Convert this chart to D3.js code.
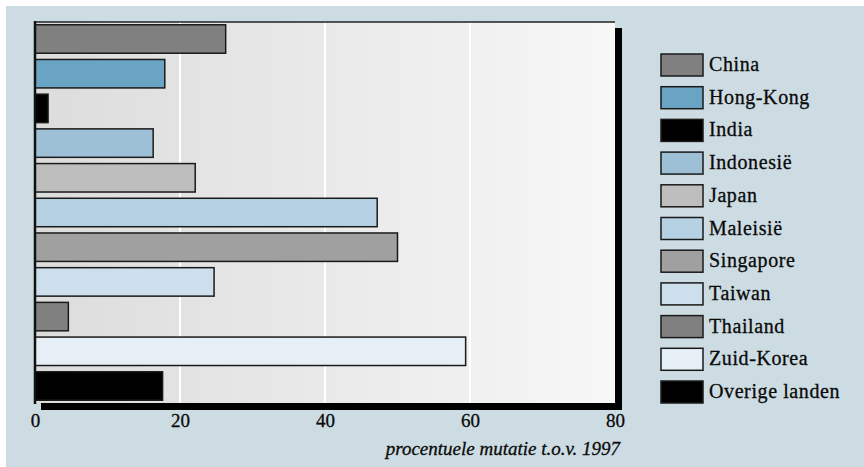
<!DOCTYPE html>
<html lang="nl">
<head>
  <meta charset="UTF-8">
  <title>Procentuele mutatie t.o.v. 1997</title>
  <style>
    html, body { margin: 0; padding: 0; background: #fff; }
    svg { display: block; }
    svg text {
      font-family: 'Liberation Serif', 'Times New Roman', Times, 'DejaVu Serif', serif;
      fill: #0a0a0a; stroke: #0a0a0a; stroke-width: 0.3px;
    }
    .tick text { font-size: 19px; }
  </style>
</head>
<body>
  <div class="workspace"></div>
  <script src="https://cdn.jsdelivr.net/npm/d3@7/dist/d3.min.js"></script>
  <script>
    // landen, in volgorde van boven naar beneden
    const countries = ['China', 'Hong-Kong', 'India', 'Indonesië', 'Japan', 'Maleisië',
      'Singapore', 'Taiwan', 'Thailand', 'Zuid-Korea', 'Overige landen']
    const values = [26.3, 17.9, 1.8, 16.3, 22.1, 47.2, 50.0, 24.7, 4.6, 59.4, 17.6]
    const colors = ['#808080', '#6aa4c4', '#000000', '#9dc0d6', '#bebebe', '#b5d1e3',
      '#a0a0a0', '#cddfec', '#808080', '#e6eef6', '#000000']
    const xTicks = [0, 20, 40, 60, 80]
    const axisTitle = 'procentuele mutatie t.o.v. 1997'

    const width = 864
    const height = 467
    const margin = { top: 22, left: 35, right: 249, bottom: 64 }
    const plotRight = width - margin.right
    const plotBottom = height - margin.bottom

    const data = countries.map((c, i) => ({ name: c, value: values[i], color: colors[i] }))

    const svg = d3.select('.workspace').append('svg')
      .attr('width', width)
      .attr('height', height)

    // achtergrond
    svg.append('rect')
      .attr('x', 6).attr('y', 6)
      .attr('width', width - 6).attr('height', height - 6)
      .attr('fill', '#cddce3')

    const defs = svg.append('defs')
    const grad = defs.append('linearGradient')
      .attr('id', 'plotBg')
      .attr('x1', '0%').attr('x2', '100%')
      .attr('y1', '0%').attr('y2', '0%')
    grad.append('stop').attr('offset', '0%').attr('stop-color', '#dcdcdc')
    grad.append('stop').attr('offset', '100%').attr('stop-color', '#f7f7f7')

    const x = d3.scaleLinear()
      .domain([0, 80])
      .range([margin.left, plotRight])

    const y = d3.scaleBand()
      .domain(countries)
      .range([margin.top, plotBottom])
      .paddingInner(0.18)
      .paddingOuter(0.08)

    // schaduw
    svg.append('rect')
      .attr('x', margin.left + 6)
      .attr('y', margin.top + 6)
      .attr('width', plotRight - margin.left + 1)
      .attr('height', plotBottom - margin.top + 1)
      .attr('fill', '#000')

    svg.append('rect')
      .attr('x', margin.left)
      .attr('y', margin.top)
      .attr('width', plotRight - margin.left)
      .attr('height', plotBottom - margin.top)
      .attr('fill', 'url(#plotBg)')

    // rasterlijnen
    svg.append('g')
      .selectAll('line')
      .data(xTicks.filter(t => t > 0 && t < 80))
      .enter().append('line')
      .attr('x1', d => x(d)).attr('x2', d => x(d))
      .attr('y1', margin.top).attr('y2', plotBottom)
      .attr('stroke', '#fff')
      .attr('stroke-width', 2)

    // bovenrand
    svg.append('line')
      .attr('x1', margin.left).attr('x2', plotRight)
      .attr('y1', margin.top).attr('y2', margin.top)
      .attr('stroke', '#222')
      .attr('stroke-width', 1.5)

    // staven
    svg.append('g')
      .selectAll('rect')
      .data(data)
      .enter().append('rect')
      .attr('x', x(0))
      .attr('y', d => y(d.name))
      .attr('width', d => x(d.value) - x(0))
      .attr('height', y.bandwidth())
      .attr('fill', d => d.color)
      .attr('stroke', '#1a1a1a')
      .attr('stroke-width', 1.5)

    // linker as
    svg.append('line')
      .attr('x1', margin.left).attr('x2', margin.left)
      .attr('y1', margin.top - 1).attr('y2', plotBottom + 1)
      .attr('stroke', '#111')
      .attr('stroke-width', 2.5)

    // x-as labels
    const xAxis = svg.append('g')
      .attr('transform', `translate(0, ${plotBottom})`)
      .call(d3.axisBottom(x).tickValues(xTicks).tickSize(0).tickPadding(11))
    xAxis.select('.domain').remove()
    xAxis.selectAll('.tick text')
      .attr('dy', '0.71em')
      .attr('fill', null)
    xAxis.attr('font-family', null).attr('font-size', null)

    svg.append('text')
      .attr('x', plotRight + 5)
      .attr('y', 455)
      .attr('text-anchor', 'end')
      .style('font-style', 'italic')
      .style('font-size', '19px')
      .text(axisTitle)

    // legenda
    const legendStep = 32.7
    const legend = svg.append('g')
      .attr('transform', 'translate(661, 54)')

    const item = legend.selectAll('g')
      .data(data)
      .enter().append('g')
      .attr('transform', (d, i) => `translate(0, ${i * legendStep})`)

    item.append('rect')
      .attr('width', 42)
      .attr('height', 22)
      .attr('fill', d => d.color)
      .attr('stroke', '#1a1a1a')
      .attr('stroke-width', 1.5)

    item.append('text')
      .attr('x', 48)
      .attr('y', 17)
      .style('font-size', '20px')
      .style('letter-spacing', '0.6px')
      .text(d => d.name)
  </script>
</body>
</html>
